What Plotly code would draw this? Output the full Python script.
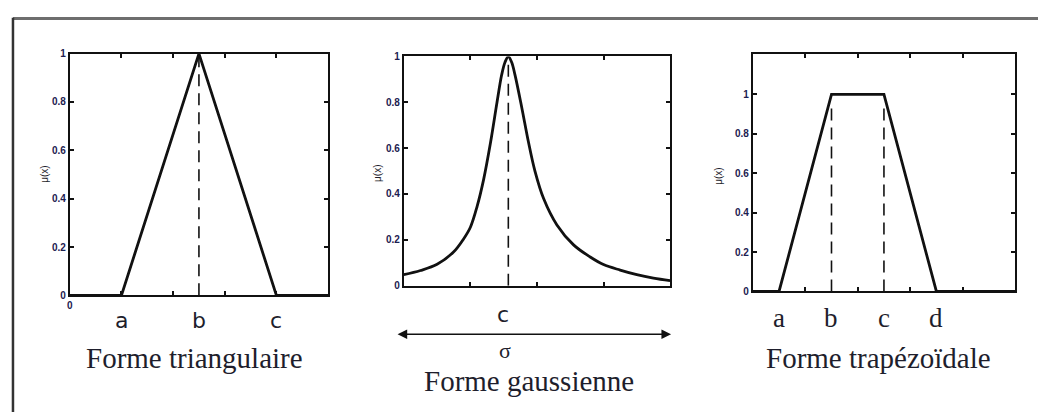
import plotly.graph_objects as go

W, H = 1038, 414

# ---------------- data ----------------
tri_x = [0, 1, 2.5, 4, 5]
tri_y = [0, 0, 1, 0, 0]
tri_params = [1, 2.5, 4]
tri_labels = ["a", "b", "c"]

gauss_x = [0.0, 0.25, 0.5, 0.75, 0.9, 1.0, 1.1, 1.2, 1.3, 1.4, 1.47, 1.52, 1.57,
           1.62, 1.67, 1.77, 1.87, 1.97, 2.1, 2.3, 2.55, 2.8, 3.0, 3.25, 3.5, 3.75, 4.0]
gauss_y = [0.048, 0.066, 0.093, 0.148, 0.205, 0.255, 0.345, 0.465, 0.62, 0.80, 0.92, 0.975, 1.0,
           0.975, 0.92, 0.78, 0.63, 0.50, 0.38, 0.265, 0.178, 0.125, 0.092, 0.068, 0.048, 0.033, 0.022]
gauss_c = 1.57

trap_x = [0, 0.5, 1.5, 2.5, 3.5, 5]
trap_y = [0, 0, 1, 1, 0, 0]
trap_params = [0.5, 1.5, 2.5, 3.5]
trap_labels = ["a", "b", "c", "d"]
trap_dash_top = 0.95

y_ticks = [0, 0.2, 0.4, 0.6, 0.8, 1]
titles = ["Forme triangulaire", "Forme gaussienne", "Forme trapézoïdale"]
y_label = "μ(x)"

# ---------------- figure ----------------
def px_x(p):
    return p / W

def px_y(p):
    return 1 - p / H

fig = go.Figure()
LINE = dict(color="#111111", width=2.8)
DASH = dict(color="#111111", width=1.6, dash="12px,7px")

fig.add_trace(go.Scatter(x=tri_x, y=tri_y, mode="lines", line=LINE, xaxis="x", yaxis="y"))
fig.add_trace(go.Scatter(x=[tri_params[1], tri_params[1]], y=[0, 1], mode="lines", line=DASH, xaxis="x", yaxis="y"))

fig.add_trace(go.Scatter(x=gauss_x, y=gauss_y, mode="lines",
                         line=dict(color="#111111", width=2.8, shape="spline", smoothing=1.0),
                         xaxis="x2", yaxis="y2"))
fig.add_trace(go.Scatter(x=[gauss_c, gauss_c], y=[0, 1], mode="lines", line=DASH, xaxis="x2", yaxis="y2"))

fig.add_trace(go.Scatter(x=trap_x, y=trap_y, mode="lines", line=LINE, xaxis="x3", yaxis="y3"))
for v in trap_params[1:3]:
    fig.add_trace(go.Scatter(x=[v, v], y=[0, trap_dash_top], mode="lines", line=DASH, xaxis="x3", yaxis="y3"))

TICKFONT = dict(family="Liberation Sans", size=10, color="#1c2050", weight="bold")
common_ax = dict(showline=True, linecolor="#111111", linewidth=2, mirror="ticks",
                 ticks="inside", ticklen=4, tickwidth=1.5, tickcolor="#111111",
                 showgrid=False, zeroline=False, fixedrange=True)

doms = [
    ([67, 326], [49, 298], [0, 5], [0, 1]),
    ([402, 669], [52, 288], [0, 4], [0, 1]),
    ([752, 1015], [49, 294], [0, 5], [0, 1.207]),
]
layout = {}
for i, (xd, yd, xr, yr) in enumerate(doms):
    sfx = "" if i == 0 else str(i + 1)
    nx = 6 if xr[1] == 5 else 5
    xtext = ["0"] + [""] * (nx - 1) if i == 0 else [""] * nx
    layout["xaxis" + sfx] = dict(common_ax, domain=[px_x(xd[0]), px_x(xd[1])], range=xr,
                                 anchor="y" + sfx, tickvals=list(range(nx)), ticktext=xtext,
                                 tickfont=TICKFONT)
    layout["yaxis" + sfx] = dict(common_ax, domain=[px_y(yd[1]), px_y(yd[0])], range=yr,
                                 anchor="x" + sfx, tickvals=y_ticks, tickfont=TICKFONT)

ann = []
TXT = "#1e1e2c"
C = dict(xanchor="center", yanchor="middle", showarrow=False)
# y-axis labels
for xp, yp in [(42, 173), (375, 172), (718, 175)]:
    ann.append(dict(C, x=px_x(xp), y=px_y(yp), xref="paper", yref="paper", text=y_label,
                    textangle=-90, font=dict(family="Liberation Sans", size=10, color=TXT)))
# panel 1 parameter labels
for v, t in zip(tri_params, tri_labels):
    ann.append(dict(C, x=v, y=px_y(324), xref="x", yref="paper", text=t,
                    font=dict(family="DejaVu Sans", size=22, color=TXT)))
# panel 3 parameter labels
for v, t in zip(trap_params, trap_labels):
    ann.append(dict(C, x=v, y=px_y(321), xref="x3", yref="paper", text=t,
                    font=dict(family="Liberation Serif", size=27, color=TXT)))
# panel 2 labels
ann.append(dict(C, x=gauss_c - 0.08, y=px_y(318), xref="x2", yref="paper", text="c",
                font=dict(family="DejaVu Sans", size=22, color=TXT)))
ann.append(dict(C, x=px_x(503), y=px_y(355), xref="paper", yref="paper", text="σ",
                font=dict(family="Liberation Serif", size=22, color=TXT)))
ann.append(dict(x=px_x(670), y=px_y(338), ax=-(670 - 395), ay=0, xref="paper", yref="paper",
                axref="pixel", ayref="pixel", text="", showarrow=True, arrowhead=2, arrowsize=1.2,
                arrowwidth=1.6, arrowcolor="#111111", arrowside="end+start"))
# titles
for (xp, yp), t in zip([(192, 362), (528, 386), (878, 363)], titles):
    ann.append(dict(C, x=px_x(xp), y=px_y(yp), xref="paper", yref="paper", text=t,
                    font=dict(family="Liberation Serif", size=29, color=TXT)))

shapes = [
    dict(type="line", xref="paper", yref="paper", x0=px_x(10), x1=1.01, y0=px_y(13), y1=px_y(13),
         line=dict(color="#6e6e6e", width=3)),
    dict(type="line", xref="paper", yref="paper", x0=px_x(10), x1=px_x(10), y0=px_y(12), y1=-0.01,
         line=dict(color="#333333", width=2.5)),
]

fig.update_layout(width=W, height=H, margin=dict(l=0, r=0, t=0, b=0),
                  paper_bgcolor="white", plot_bgcolor="white", showlegend=False,
                  annotations=ann, shapes=shapes, **layout)
fig.write_html("out.html", config={"displayModeBar": False},
               post_script="document.body.style.margin='0';document.body.style.overflow='hidden';")
